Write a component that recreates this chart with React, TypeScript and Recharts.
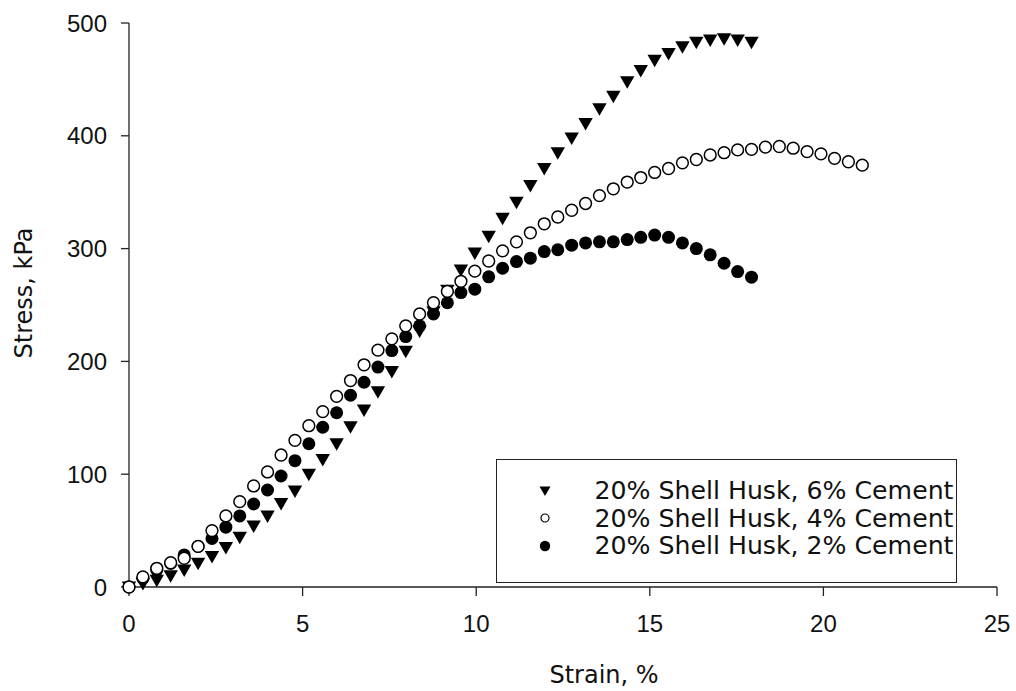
import React from "react";
import {
  ScatterChart,
  Scatter,
  XAxis,
  YAxis,
  Legend,
} from "recharts";

// strain readings (%) shared by all three specimens
const strain = [
  0, 0.4, 0.8, 1.2, 1.59, 1.99, 2.39, 2.79, 3.19, 3.59,
  3.99, 4.38, 4.78, 5.18, 5.58, 5.98, 6.38, 6.77, 7.17, 7.57,
  7.97, 8.37, 8.77, 9.17, 9.56, 9.96, 10.36, 10.76, 11.16, 11.56,
  11.96, 12.35, 12.75, 13.15, 13.55, 13.95, 14.35, 14.74, 15.14, 15.54,
  15.94, 16.34, 16.74, 17.14, 17.53, 17.93, 18.33, 18.73, 19.13, 19.53,
  19.93, 20.32, 20.72, 21.12,
];

// stress (kPa)
const stress6 = [
  0, 3, 6, 10, 15, 21, 27, 35, 44, 54,
  63, 74, 85, 100, 113, 127, 142, 157, 173, 191,
  209, 227, 244, 263, 281, 296, 311, 327, 341, 356,
  371, 385, 398, 411, 424, 435, 448, 458, 467, 473,
  479, 483, 485, 486, 485, 483,
];
const stress4 = [
  0, 9, 16.6, 21.5, 25.5, 36, 50, 63, 75.7, 89.6,
  102, 117, 130, 143, 155.5, 169, 183, 197, 210, 220,
  231.5, 242, 252, 262, 271, 280, 289, 298, 306, 314,
  322, 328, 334, 340, 347, 353, 359, 363, 367.5, 371,
  376, 379, 383, 385, 387.5, 388, 390, 390.5, 389, 386,
  384, 380, 377, 374,
];
const stress2 = [
  0, 7.7, 15, 21, 28.4, 36, 43, 53, 63, 73.6,
  86, 98.4, 112, 127, 141.6, 154.5, 170, 181.5, 195, 209.6,
  222, 231.5, 242, 252, 261, 264, 275, 282.6, 288.5, 291.5,
  297.4, 299, 303, 305, 306, 306, 308, 310, 312, 310,
  305, 300, 294.5, 287, 279.6, 274.7,
];

const seriesNames = [
  "20% Shell Husk, 6% Cement",
  "20% Shell Husk, 4% Cement",
  "20% Shell Husk, 2% Cement",
];
const xTicks = [0, 5, 10, 15, 20, 25];
const yTicks = [0, 100, 200, 300, 400, 500];

const toPoints = (ys: number[]) => ys.map((y, i) => ({ x: strain[i], y }));

const tickFont = { fontFamily: "'Liberation Sans', Arial, sans-serif", fontSize: 24, fill: "#111" };
const titleFont = "'DejaVu Sans', Verdana, sans-serif";

function TriangleDown(props: any) {
  const { cx, cy } = props;
  if (cx == null || cy == null) return <g />;
  return (
    <path
      d={`M${cx - 7.2},${cy - 5.5} L${cx + 7.2},${cy - 5.5} L${cx},${cy + 7} Z`}
      fill="#000"
    />
  );
}

function OpenDot(props: any) {
  const { cx, cy } = props;
  if (cx == null || cy == null) return <g />;
  return <circle cx={cx} cy={cy} r={5.9} fill="#fff" stroke="#000" strokeWidth={1.5} />;
}

function FilledDot(props: any) {
  const { cx, cy } = props;
  if (cx == null || cy == null) return <g />;
  return <circle cx={cx} cy={cy} r={6.5} fill="#000" />;
}

function LegendMark({ index }: { index: number }) {
  if (index === 0) return <path d="M4.5,5.5 L15.5,5.5 L10,15 Z" fill="#000" />;
  if (index === 1) return <circle cx={10} cy={10} r={4} fill="#fff" stroke="#000" strokeWidth={1.2} />;
  return <circle cx={10} cy={10} r={5.2} fill="#000" />;
}

function renderLegend(props: any) {
  const items = [...(props.payload || [])].sort(
    (a: any, b: any) => seriesNames.indexOf(a.value) - seriesNames.indexOf(b.value)
  );
  return (
    <div
      style={{
        boxSizing: "border-box",
        width: 461,
        height: 124,
        border: "1.5px solid #222",
        background: "#fff",
        paddingTop: 17,
      }}
    >
      {items.map((entry: any) => (
        <div key={entry.value} style={{ display: "flex", alignItems: "center", height: 27.5 }}>
          <svg width={20} height={20} style={{ marginLeft: 38, marginRight: 39.5 }}>
            <LegendMark index={seriesNames.indexOf(entry.value)} />
          </svg>
          <span
            style={{
              fontFamily: titleFont,
              fontSize: 25.2,
              lineHeight: "27.5px",
              color: "#111",
              whiteSpace: "nowrap",
            }}
          >
            {entry.value}
          </span>
        </div>
      ))}
    </div>
  );
}

export default function App() {
  return (
    <div style={{ position: "absolute", left: 0, top: 0, width: 1016, height: 691, background: "#fff" }}>
      <ScatterChart
        width={1016}
        height={691}
        margin={{ top: 23, right: 19, bottom: 0, left: 0 }}
      >
        <XAxis
          type="number"
          dataKey="x"
          domain={[0, 25]}
          ticks={xTicks}
          height={104}
          stroke="#222"
          strokeWidth={1.3}
          tickSize={9}
          tickMargin={19}
          tick={tickFont}
          label={{
            content: (p: any) => {
              const vb = p.viewBox;
              return (
                <text
                  x={vb.x + vb.width / 2 + 41}
                  y={vb.y + 96}
                  textAnchor="middle"
                  fontFamily={titleFont}
                  fontSize={24}
                  fill="#111"
                >
                  Strain, %
                </text>
              );
            },
          }}
        />
        <YAxis
          type="number"
          dataKey="y"
          domain={[0, 500]}
          ticks={yTicks}
          width={129}
          stroke="#222"
          strokeWidth={1.3}
          tickSize={8}
          tickMargin={14}
          tick={tickFont}
          label={{
            content: (p: any) => {
              const vb = p.viewBox;
              const x = vb.x + 32;
              const y = vb.y + 270;
              return (
                <text
                  x={x}
                  y={y}
                  transform={`rotate(-90 ${x} ${y})`}
                  textAnchor="middle"
                  fontFamily={titleFont}
                  fontSize={24}
                  fill="#111"
                >
                  Stress, kPa
                </text>
              );
            },
          }}
        />
        <Legend
          layout="horizontal"
          align="center"
          verticalAlign="middle"
          content={renderLegend}
          wrapperStyle={{ left: 496, top: 459, width: 461, height: 124 }}
        />
        <Scatter
          name={seriesNames[0]}
          data={toPoints(stress6)}
          shape={TriangleDown}
          isAnimationActive={false}
        />
        <Scatter
          name={seriesNames[2]}
          data={toPoints(stress2)}
          shape={FilledDot}
          isAnimationActive={false}
        />
        <Scatter
          name={seriesNames[1]}
          data={toPoints(stress4)}
          shape={OpenDot}
          isAnimationActive={false}
        />
      </ScatterChart>
    </div>
  );
}
